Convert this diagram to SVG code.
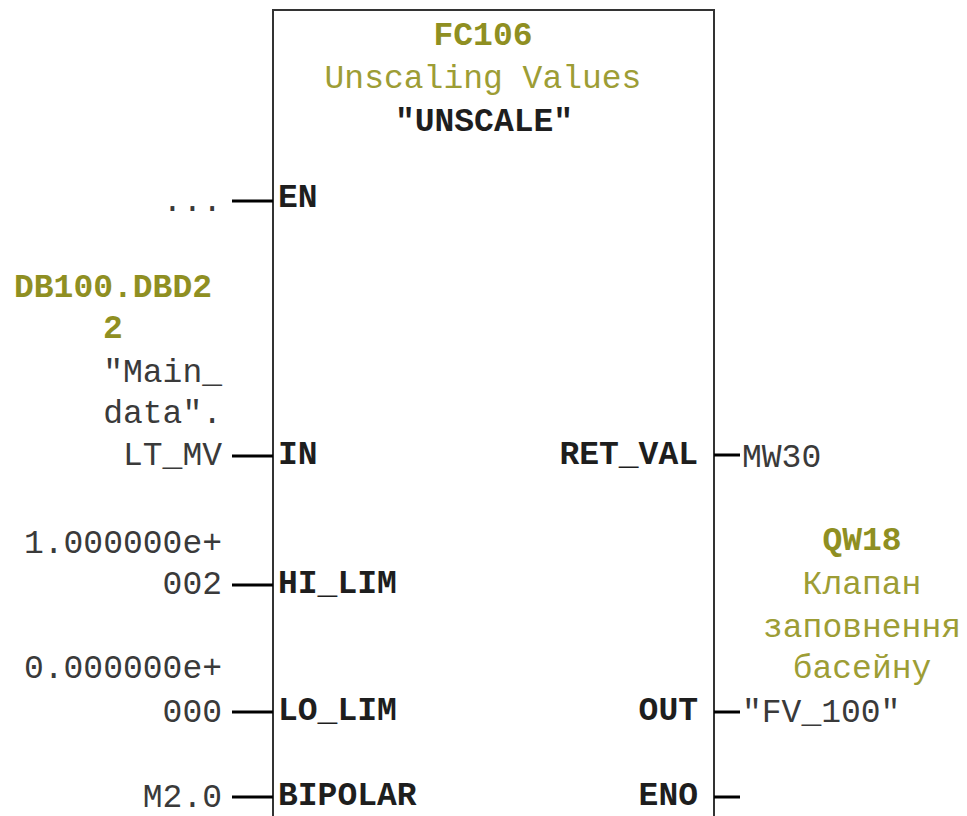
<svg xmlns="http://www.w3.org/2000/svg" width="967" height="816" viewBox="0 0 967 816">
<style>
text{font-family:"Liberation Mono","Courier New",monospace;font-size:33px}
.pin{fill:#1e1e1e;font-weight:bold}
.val{fill:#3a3a3a}
.olb{fill:#8f8f22;font-weight:bold}
.ol{fill:#9d9d35}
.wire{stroke:#000;stroke-width:3;fill:none}
</style>
<rect width="967" height="816" fill="#fff"/>
<g id="block">
<path d="M273,830 V10 H714 V830" fill="none" stroke="#333" stroke-width="2"/>
<text class="olb" x="483" y="45" text-anchor="middle">FC106</text>
<text class="ol" x="483" y="88" text-anchor="middle">Unscaling Values</text>
<text class="pin" x="484" y="131" text-anchor="middle">"UNSCALE"</text>
<text class="pin" x="278" y="207">EN</text>
<text class="pin" x="278" y="464">IN</text>
<text class="pin" x="278" y="593">HI_LIM</text>
<text class="pin" x="278" y="720">LO_LIM</text>
<text class="pin" x="278" y="805">BIPOLAR</text>
<text class="pin" x="698" y="464" text-anchor="end">RET_VAL</text>
<text class="pin" x="698" y="720" text-anchor="end">OUT</text>
<text class="pin" x="698" y="805" text-anchor="end">ENO</text>
</g>
<g id="connectors">
<line class="wire" x1="232" y1="201" x2="273" y2="201"/>
<line class="wire" x1="232" y1="456" x2="273" y2="456"/>
<line class="wire" x1="232" y1="585" x2="273" y2="585"/>
<line class="wire" x1="232" y1="712" x2="273" y2="712"/>
<line class="wire" x1="232" y1="797" x2="273" y2="797"/>
<line class="wire" x1="714" y1="455" x2="740" y2="455"/>
<line class="wire" x1="714" y1="712" x2="740" y2="712"/>
<line class="wire" x1="714" y1="797" x2="740" y2="797"/>
</g>
<g id="in-en">
<text class="val" x="222" y="211" text-anchor="end">...</text>
</g>
<g id="in-in">
<text class="olb" x="113" y="297" text-anchor="middle">DB100.DBD2</text>
<text class="olb" x="113" y="338" text-anchor="middle">2</text>
<text class="val" x="222" y="382" text-anchor="end">"Main_</text>
<text class="val" x="222" y="423" text-anchor="end">data".</text>
<text class="val" x="222" y="465" text-anchor="end">LT_MV</text>
</g>
<g id="in-hilim">
<text class="val" x="222" y="553" text-anchor="end">1.000000e+</text>
<text class="val" x="222" y="594" text-anchor="end">002</text>
</g>
<g id="in-lolim">
<text class="val" x="222" y="678" text-anchor="end">0.000000e+</text>
<text class="val" x="222" y="722" text-anchor="end">000</text>
</g>
<g id="in-bipolar">
<text class="val" x="222" y="807" text-anchor="end">M2.0</text>
</g>
<g id="out-retval">
<text class="val" x="742" y="467">MW30</text>
</g>
<g id="out-out">
<text class="olb" x="862" y="550" text-anchor="middle">QW18</text>
<text class="ol" x="862" y="594" text-anchor="middle">Клапан</text>
<text class="ol" x="862" y="637" text-anchor="middle">заповнення</text>
<text class="ol" x="862" y="678" text-anchor="middle">басейну</text>
<text class="val" x="742" y="722">"FV_100"</text>
</g>
</svg>
